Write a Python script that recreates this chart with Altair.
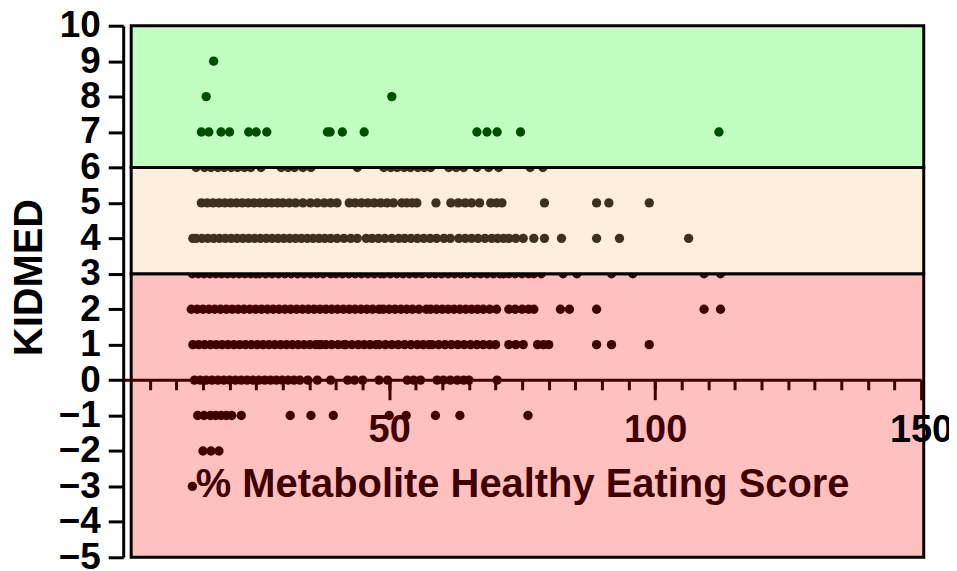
import altair as alt
import pandas as pd

x_title = "% Metabolite Healthy Eating Score"
y_title = "KIDMED"

# KIDMED score (y) -> % Metabolite Healthy Eating Score values (x)
kidmed_9 = [17.0]
kidmed_8 = [15.6, 50.5]
kidmed_7 = [14.7, 16.1, 18.4, 20.0, 23.6, 25.0, 27.0, 38.4, 38.9, 41.2, 45.3,
            66.5, 68.4, 70.3, 74.7, 112.0]
kidmed_6 = [13.7, 15.3, 16.5, 17.8, 19.0, 20.3, 21.5, 22.8, 24.0, 25.9, 29.7, 31.0,
            32.2, 33.8, 35.3, 44.0, 49.0, 50.3, 51.5, 52.8, 54.0, 55.4, 56.6, 57.8,
            61.2, 62.6, 64.0, 66.5, 68.7, 70.6, 76.5, 78.9]
kidmed_5 = [14.7, 15.8, 16.9, 18.0, 19.1, 20.2, 21.3, 22.4, 23.5, 24.6, 25.7, 26.8,
            27.9, 29.0, 30.0, 31.2, 32.4, 33.8, 35.2, 36.5, 37.8, 39.0, 40.2, 42.5,
            43.6, 44.8, 46.0, 47.2, 48.4, 49.6, 50.8, 52.4, 53.3, 54.3, 55.2, 58.8,
            61.6, 63.0, 64.3, 65.5, 67.0, 69.1, 70.2, 71.2, 79.2, 89.0, 91.3, 98.9]
kidmed_4 = [13.1, 13.7, 14.8, 15.9, 17.0, 18.1, 19.2, 20.3, 21.4, 22.5, 23.6, 24.7,
            25.8, 26.9, 28.0, 29.1, 30.2, 31.3, 32.4, 33.5, 34.6, 35.7, 36.8, 37.9,
            39.0, 40.2, 41.5, 42.8, 44.0, 45.7, 46.8, 48.0, 49.2, 50.5, 51.8, 52.9,
            54.1, 55.3, 56.5, 57.7, 58.9, 60.3, 61.5, 63.1, 64.3, 65.5, 66.7, 68.0,
            69.3, 70.4, 71.5, 72.5, 73.8, 75.2, 77.2, 79.2, 82.4, 89.0, 93.3, 106.3]
kidmed_3 = [13.0, 14.1, 15.2, 16.3, 17.4, 18.5, 19.6, 20.7, 21.8, 22.9, 24.0, 25.0,
            25.6, 26.8, 28.0, 29.2, 30.4, 31.6, 32.8, 34.0, 35.2, 36.4, 37.6, 39.0,
            40.0, 41.2, 42.4, 43.6, 44.8, 46.0, 47.2, 48.4, 49.0, 50.2, 51.4, 52.6,
            53.8, 55.0, 56.2, 57.5, 58.7, 59.9, 61.1, 62.3, 63.5, 64.7, 66.0, 67.2,
            68.4, 69.6, 70.8, 71.5, 72.5, 73.7, 75.0, 76.2, 77.2, 78.6, 82.7, 85.3,
            91.8, 95.8, 109.2, 112.3]
kidmed_2 = [12.8, 13.9, 15.0, 16.1, 17.2, 18.3, 19.4, 20.5, 21.6, 22.7, 23.8, 24.9,
            26.0, 27.1, 28.2, 29.3, 30.4, 31.5, 32.6, 33.7, 34.8, 35.9, 37.0, 38.1,
            39.2, 40.3, 41.4, 42.5, 43.6, 44.7, 45.8, 46.9, 48.1, 48.9, 50.0, 51.1,
            52.2, 53.3, 54.4, 55.6, 57.0, 57.8, 58.9, 60.0, 61.1, 62.2, 63.3, 64.4,
            65.5, 66.6, 67.7, 68.9, 70.2, 72.5, 73.7, 75.0, 76.2, 77.2, 82.2, 83.9,
            89.0, 109.2, 112.3]
kidmed_1 = [13.1, 14.2, 15.3, 16.4, 17.5, 18.6, 19.7, 20.8, 21.9, 23.0, 24.1, 25.2,
            26.3, 27.4, 28.5, 29.6, 30.7, 31.8, 32.9, 34.0, 35.1, 36.2, 36.8, 37.2,
            38.1, 39.2, 40.4, 41.5, 41.8, 43.0, 44.2, 45.3, 46.4, 47.5, 48.1, 49.3,
            50.5, 51.7, 52.9, 54.1, 55.3, 56.4, 57.5, 58.1, 59.3, 60.5, 61.7, 62.9,
            64.1, 65.3, 66.5, 67.7, 68.9, 70.0, 72.5, 73.8, 75.2, 77.9, 79.0, 80.0,
            89.0, 91.8, 98.9]
kidmed_0 = [13.4, 14.5, 15.6, 16.7, 17.8, 18.9, 20.0, 21.1, 22.2, 23.3, 24.4, 25.5,
            26.6, 27.7, 28.8, 29.9, 31.0, 32.1, 33.2, 34.7, 36.5, 39.0, 42.2, 43.5,
            45.0, 48.1, 49.7, 53.4, 54.6, 55.9, 59.0, 60.2, 61.5, 62.8, 64.0, 65.0,
            70.3]
kidmed_m1 = [14.0, 15.2, 16.4, 17.4, 18.4, 19.4, 20.4, 22.2, 31.4, 35.3, 39.5, 50.0,
             53.2, 58.7, 63.3, 76.1]
kidmed_m2 = [15.0, 16.5, 18.0]
kidmed_m3 = [13.0]

rows = {9: kidmed_9, 8: kidmed_8, 7: kidmed_7, 6: kidmed_6, 5: kidmed_5,
        4: kidmed_4, 3: kidmed_3, 2: kidmed_2, 1: kidmed_1, 0: kidmed_0,
        -1: kidmed_m1, -2: kidmed_m2, -3: kidmed_m3}

# adherence bands (KIDMED ranges)
band_names = ["high", "medium", "low"]
band_lo = [6, 3, -5]
band_hi = [10, 6, 3]

points = pd.DataFrame([{"score": x, "kidmed": k} for k, xs in rows.items() for x in xs])
bands = pd.DataFrame({"band": band_names, "lo": band_lo, "hi": band_hi,
                      "x0": [1.5] * 3, "x1": [150.5] * 3})

FONT = "Liberation Sans"
DARKRED = "#400000"
fills = {"high": "#C0FFC0", "medium": "#FFEEDE", "low": "#FFC0C0"}
dots = {"high": "#004D00", "medium": "#3F2F1F", "low": DARKRED}

xscale = alt.Scale(domain=[0, 150], nice=False, zero=False)
yscale = alt.Scale(domain=[-5, 10], nice=False, zero=False)

y_axis = alt.Axis(values=list(range(-5, 11)), title=y_title, grid=False,
                  titleFont=FONT, titleFontSize=40, titleFontWeight="bold",
                  titleColor="black", titleAngle=270, titleX=-82, titleY=252,
                  titleBaseline="alphabetic", titleAlign="center",
                  labelFont=FONT, labelFontSize=37, labelFontWeight="bold",
                  labelColor="black", labelPadding=8, labelFlush=False,
                  labelOverlap=False, tickSize=15, tickWidth=3, tickColor="black",
                  domainColor="black", domainWidth=3, zindex=1)

minor_axis = alt.Axis(values=[v for v in range(5, 150, 5)], orient="bottom",
                      offset=-178, labels=False, title=None, grid=False,
                      tickSize=10, tickWidth=3, tickColor=DARKRED,
                      domainColor=DARKRED, domainWidth=3, zindex=1)

major_axis = alt.Axis(values=[50, 100, 150], orient="bottom", offset=-178,
                      format="d", grid=False, domain=False,
                      tickSize=20, tickWidth=3, tickColor=DARKRED,
                      labelFont=FONT, labelFontSize=38, labelFontWeight="bold",
                      labelColor=alt.condition("datum.value == 150",
                                               alt.value("black"), alt.value(DARKRED)),
                      labelBaseline="alphabetic", labelPadding=42,
                      labelFlush=False, labelOverlap=False,
                      title=x_title, titleFont=FONT, titleFontSize=40,
                      titleFontWeight="bold", titleColor=DARKRED,
                      titleBaseline="alphabetic", titleY=117, zindex=1)


def band_layer(name):
    return alt.Chart(bands).transform_filter(
        alt.datum.band == name
    ).mark_rect(fill=fills[name], stroke="black", strokeWidth=3).encode(
        x=alt.X("x0:Q", scale=xscale, axis=None),
        x2="x1:Q",
        y=alt.Y("lo:Q", scale=yscale, axis=y_axis),
        y2="hi:Q",
    )


def point_layer(name, test, xaxis):
    return alt.Chart(points).transform_filter(test).mark_circle(
        size=88, opacity=1, color=dots[name]
    ).encode(
        x=alt.X("score:Q", scale=xscale, axis=xaxis),
        y=alt.Y("kidmed:Q", scale=yscale, axis=y_axis),
    )


chart = alt.layer(
    band_layer("low"),
    point_layer("low", "datum.kidmed <= 3", minor_axis),
    band_layer("medium"),
    point_layer("medium", "datum.kidmed >= 4 && datum.kidmed <= 6", major_axis),
    band_layer("high"),
    point_layer("high", "datum.kidmed >= 7", None),
).resolve_axis(x="independent").properties(
    width=800, height=533,
    autosize=alt.AutoSizeParams(type="none"),
    padding={"left": 115.5, "top": 17, "right": 28, "bottom": 12},
).configure_view(stroke=None)

chart.save("out.html", embed_options={"renderer": "svg", "actions": False})
